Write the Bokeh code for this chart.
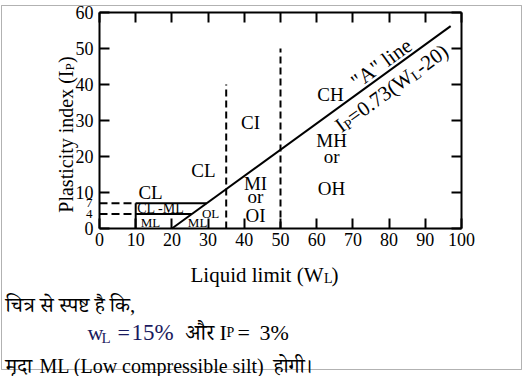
import math
from bokeh.plotting import figure
from bokeh.models import Range1d, LinearAxis, FixedTicker, Label, BoxAnnotation
from bokeh.embed import file_html
from bokeh.resources import INLINE

# ---------------- data ----------------
ll_ticks = [0, 10, 20, 30, 40, 50, 60, 70, 80, 90, 100]
pi_ticks = [0, 10, 20, 30, 40, 50, 60]
pi_extra_ticks = [7, 4]
a_line_wl = [20, 97]
a_line_pi = [0, 56.2]
div_wl = [35, 50]
div_top_pi = [40, 50]
clml_pi = [7, 4]
clml_start_wl = [10, 10]
clml_end_wl = [29.6, 25.5]
zone_names = ["CL", "CL", "CI", "CH", "MH", "or", "OH", "MI", "or", "OI"]
zone_wl = [14.1, 28.7, 41.7, 63.8, 64.1, 64.1, 64.1, 43.1, 43.1, 43.1]
zone_pi = [10.0, 16.1, 29.4, 37.2, 24.4, 20.0, 11.1, 12.5, 8.9, 3.6]
small_names = ["CL -ML", "OL", "ML", "ML"]
small_wl = [16.9, 30.7, 14.1, 27.1]
small_pi = [5.6, 4.3, 1.7, 1.7]

SERIF = "Liberation Serif"
HINDI = "Liberation Serif, Noto Serif Devanagari, Noto Sans Devanagari, Lohit Devanagari, FreeSerif, sans-serif"

# chart area geometry (pixels) inside a full-canvas frame
FL, FR, FT, FB = 99, 461, 12, 228
W, H = 526, 376
kx = (FR - FL) / 100.0
ky = (FB - FT) / 60.0


def X(px):
    return (px - FL) / kx


def Y(py):
    return (FB - py) / ky


p = figure(width=W, height=H, x_range=Range1d(X(0), X(W)), y_range=Range1d(Y(H), Y(0)),
           output_backend="svg", toolbar_location=None,
           min_border_left=0, min_border_right=0, min_border_top=0, min_border_bottom=0)
p.grid.visible = False
p.outline_line_color = None
p.background_fill_color = "white"
p.border_fill_color = "white"


def style_axis(ax, show_labels=True):
    ax.axis_line_width = 2
    ax.axis_line_color = "black"
    ax.major_tick_line_width = 2
    ax.major_tick_line_color = "black"
    ax.major_tick_in = 10
    ax.major_tick_out = 0
    ax.minor_tick_line_color = None
    ax.major_label_text_font = SERIF
    ax.major_label_text_font_size = "18px"
    if show_labels:
        ax.major_label_text_color = "black"
    else:
        ax.major_label_text_color = None


xb = p.xaxis[0]
xb.ticker = FixedTicker(ticks=ll_ticks)
xb.fixed_location = 0
xb.bounds = (0, 100)
style_axis(xb)
xb.major_label_standoff = 4

yl = p.yaxis[0]
yl.ticker = FixedTicker(ticks=pi_ticks)
yl.fixed_location = 0
yl.bounds = (0, 60)
style_axis(yl)
yl.major_label_standoff = 6

top_ax = LinearAxis(ticker=FixedTicker(ticks=ll_ticks), fixed_location=60, bounds=(0, 100))
style_axis(top_ax, False)
p.add_layout(top_ax, "above")
right_ax = LinearAxis(ticker=FixedTicker(ticks=pi_ticks), fixed_location=100, bounds=(0, 60))
style_axis(right_ax, False)
p.add_layout(right_ax, "right")

# A-line
p.line(a_line_wl, a_line_pi, line_color="black", line_width=2)
# vertical dashed divisions
for wl, top in zip(div_wl, div_top_pi):
    p.line([wl, wl], [0, top], line_color="black", line_width=2, line_dash="7 4")
# CL-ML band
for lvl, s, e in zip(clml_pi, clml_start_wl, clml_end_wl):
    p.line([0, s], [lvl, lvl], line_color="black", line_width=2, line_dash="8 4")
    p.line([s, e], [lvl, lvl], line_color="black", line_width=2)
p.line([clml_start_wl[0], clml_start_wl[0]], [0, max(clml_pi)], line_color="black", line_width=2)

for n, xw, yp in zip(zone_names, zone_wl, zone_pi):
    p.add_layout(Label(x=xw, y=yp, text=n, text_font=SERIF, text_font_size="19px",
                       text_align="center", text_baseline="middle", text_color="black"))
for n, xw, yp in zip(small_names, small_wl, small_pi):
    p.add_layout(Label(x=xw, y=yp, text=n, text_font=SERIF,
                       text_font_size="14px" if n == "CL -ML" else "13px",
                       text_align="center", text_baseline="middle", text_color="black"))

# small tick labels 7, 4
for v in pi_extra_ticks:
    p.add_layout(Label(x=X(92), y=v, text=str(v), text_font=SERIF, text_font_size="13px",
                       text_align="right", text_baseline="middle", text_color="black"))


def lab(px, py, text, size, align="left", baseline="alphabetic", angle=0.0, color="black", font=SERIF):
    p.add_layout(Label(x=X(px), y=Y(py), text=text, text_font=font, text_font_size=size,
                       text_align=align, text_baseline=baseline, angle=angle,
                       text_color=color))


# axis titles
lab(65, 70, "Plasticity index (I", "20px", align="right", angle=math.pi / 2)
lab(69, 70, "P", "13px", angle=math.pi / 2)
lab(65, 62.5, ")", "20px", angle=math.pi / 2)
lab(323, 274, "Liquid limit (W", "21px", align="right")
lab(323.5, 278, "L", "14px")
lab(331, 274, ")", "21px")

# A-line annotations
ang = math.radians(36)
ux, uy = math.cos(ang), -math.sin(ang)
dx, dy = math.sin(ang), math.cos(ang)
lab(353, 83.1, '"A" line', "21px", angle=ang)
sx0, sy0 = 337, 127
pieces = [("I", 0.0, 0, "21px"), ("P", 7.0, 4, "14px"), ("=0.73(W", 14.8, 0, "21px"),
          ("L", 90.2, 4, "14px"), ("-20)", 98.8, 0, "21px")]
for t, along, shift, fs in pieces:
    lab(sx0 + ux * along + dx * shift, sy0 + uy * along + dy * shift, t, fs, angle=ang)

# Hindi explanation text
NAVY = "#1a1a5e"
lab(5, 304, "चित्र से स्पष्ट है कि,", "21px", font=HINDI)
lab(87, 332, "w", "22px", color=NAVY)
lab(101, 337, "L", "15px", color=NAVY)
lab(117, 332, "=", "22px", color=NAVY)
lab(131, 332, "15%", "23px", color=NAVY)
lab(185, 332, "और", "22px", font=HINDI)
lab(219, 332, "I", "22px")
lab(226, 332, "P", "14px")
lab(237, 332, "=", "22px")
lab(259, 332, "3%", "22px")
lab(5, 365, "मृदा", "21px", font=HINDI)
lab(39, 365, "ML (Low compressible silt)", "20px")
lab(273, 365, "होगी।", "21px", font=HINDI)

# outer border
p.add_layout(BoxAnnotation(left=X(1), right=X(521), top=Y(5), bottom=Y(369),
                           fill_alpha=0, line_color="black", line_width=1))

open("out.html", "w").write(file_html(p, INLINE))
